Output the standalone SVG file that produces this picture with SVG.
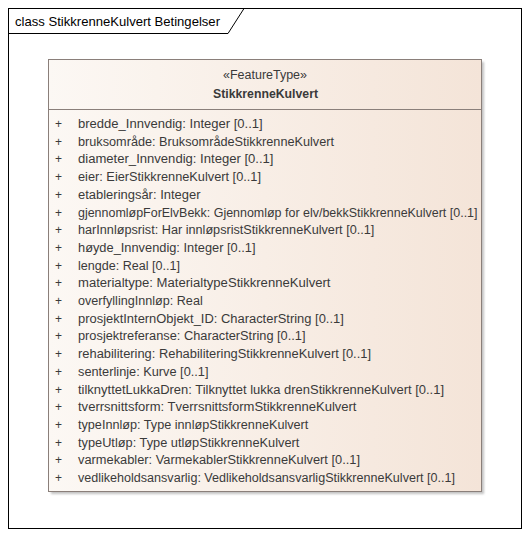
<svg xmlns="http://www.w3.org/2000/svg" width="531" height="538" viewBox="0 0 531 538">
<defs>
<linearGradient id="fill" x1="0" y1="0" x2="1" y2="0">
<stop offset="0" stop-color="#fcf8f4"/>
<stop offset="1" stop-color="#f4e4d8"/>
</linearGradient>
<filter id="sh" x="-5%" y="-5%" width="110%" height="110%">
<feGaussianBlur stdDeviation="1.2"/>
</filter>
<style>
.t{font-family:"Liberation Sans",Arial,sans-serif;font-size:12px;fill:#3a3a3a}
.p{font-family:"Liberation Sans",Arial,sans-serif;font-size:12px;fill:#3a3a3a}
.title{font-family:"Liberation Sans",Arial,sans-serif;font-size:13px;fill:#000}
</style>
</defs>
<rect x="0" y="0" width="531" height="538" fill="#ffffff"/>
<g id="frame">
<rect x="8.5" y="8.5" width="513" height="520" fill="none" stroke="#000" stroke-width="1"/>
<polyline points="8.5,33.5 228,33.5 244,8.5" fill="none" stroke="#000" stroke-width="1"/>
<text class="title" x="15" y="26" textLength="205" lengthAdjust="spacingAndGlyphs">class StikkrenneKulvert Betingelser</text>
</g>
<g id="StikkrenneKulvert">
<rect x="51" y="62" width="433" height="432" fill="#9a9a9a" opacity="0.6" filter="url(#sh)"/>
<rect x="48.5" y="59.5" width="433" height="432" fill="url(#fill)" stroke="#8a7f7a" stroke-width="1"/>
<line x1="48.5" y1="109.5" x2="481.5" y2="109.5" stroke="#8a7f7a" stroke-width="1"/>
<text class="t" x="265" y="79" text-anchor="middle" textLength="84" lengthAdjust="spacingAndGlyphs">«FeatureType»</text>
<text class="t" x="265.5" y="97.5" text-anchor="middle" font-weight="bold" textLength="105" lengthAdjust="spacingAndGlyphs">StikkrenneKulvert</text>
<g class="p">
<text x="55" y="128">+</text>
<text x="55" y="145.7">+</text>
<text x="55" y="163.4">+</text>
<text x="55" y="181.1">+</text>
<text x="55" y="198.8">+</text>
<text x="55" y="216.5">+</text>
<text x="55" y="234.2">+</text>
<text x="55" y="251.9">+</text>
<text x="55" y="269.6">+</text>
<text x="55" y="287.3">+</text>
<text x="55" y="305">+</text>
<text x="55" y="322.7">+</text>
<text x="55" y="340.4">+</text>
<text x="55" y="358.1">+</text>
<text x="55" y="375.8">+</text>
<text x="55" y="393.5">+</text>
<text x="55" y="411.2">+</text>
<text x="55" y="428.9">+</text>
<text x="55" y="446.6">+</text>
<text x="55" y="464.3">+</text>
<text x="55" y="482">+</text>
</g>
<g class="t">
<text x="78" y="128" textLength="184.7" lengthAdjust="spacingAndGlyphs">bredde_Innvendig: Integer [0..1]</text>
<text x="78" y="145.7" textLength="256" lengthAdjust="spacingAndGlyphs">bruksområde: BruksområdeStikkrenneKulvert</text>
<text x="78" y="163.4" textLength="195.5" lengthAdjust="spacingAndGlyphs">diameter_Innvendig: Integer [0..1]</text>
<text x="78" y="181.1" textLength="183" lengthAdjust="spacingAndGlyphs">eier: EierStikkrenneKulvert [0..1]</text>
<text x="78" y="198.8" textLength="122.5" lengthAdjust="spacingAndGlyphs">etableringsår: Integer</text>
<text x="78" y="216.5" textLength="399.5" lengthAdjust="spacingAndGlyphs">gjennomløpForElvBekk: Gjennomløp for elv/bekkStikkrenneKulvert [0..1]</text>
<text x="78" y="234.2" textLength="296.3" lengthAdjust="spacingAndGlyphs">harInnløpsrist: Har innløpsristStikkrenneKulvert [0..1]</text>
<text x="78" y="251.9" textLength="177.5" lengthAdjust="spacingAndGlyphs">høyde_Innvendig: Integer [0..1]</text>
<text x="78" y="269.6" textLength="102" lengthAdjust="spacingAndGlyphs">lengde: Real [0..1]</text>
<text x="78" y="287.3" textLength="252.5" lengthAdjust="spacingAndGlyphs">materialtype: MaterialtypeStikkrenneKulvert</text>
<text x="78" y="305" textLength="124.7" lengthAdjust="spacingAndGlyphs">overfyllingInnløp: Real</text>
<text x="78" y="322.7" textLength="265.8" lengthAdjust="spacingAndGlyphs">prosjektInternObjekt_ID: CharacterString [0..1]</text>
<text x="78" y="340.4" textLength="227.5" lengthAdjust="spacingAndGlyphs">prosjektreferanse: CharacterString [0..1]</text>
<text x="78" y="358.1" textLength="293" lengthAdjust="spacingAndGlyphs">rehabilitering: RehabiliteringStikkrenneKulvert [0..1]</text>
<text x="78" y="375.8" textLength="130.5" lengthAdjust="spacingAndGlyphs">senterlinje: Kurve [0..1]</text>
<text x="78" y="393.5" textLength="366" lengthAdjust="spacingAndGlyphs">tilknyttetLukkaDren: Tilknyttet lukka drenStikkrenneKulvert [0..1]</text>
<text x="78" y="411.2" textLength="278.5" lengthAdjust="spacingAndGlyphs">tverrsnittsform: TverrsnittsformStikkrenneKulvert</text>
<text x="78" y="428.9" textLength="230.3" lengthAdjust="spacingAndGlyphs">typeInnløp: Type innløpStikkrenneKulvert</text>
<text x="78" y="446.6" textLength="221.3" lengthAdjust="spacingAndGlyphs">typeUtløp: Type utløpStikkrenneKulvert</text>
<text x="78" y="464.3" textLength="282" lengthAdjust="spacingAndGlyphs">varmekabler: VarmekablerStikkrenneKulvert [0..1]</text>
<text x="78" y="482" textLength="377" lengthAdjust="spacingAndGlyphs">vedlikeholdsansvarlig: VedlikeholdsansvarligStikkrenneKulvert [0..1]</text>
</g>
</g>
<g id="connectors"></g>
</svg>
